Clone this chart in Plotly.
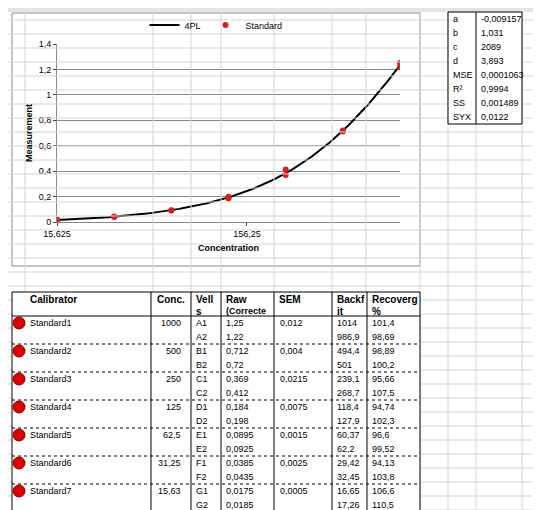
import numpy as np
import plotly.graph_objects as go

W, H = 541, 510
calibrators = ["Standard1","Standard2","Standard3","Standard4","Standard5","Standard6","Standard7"]
conc = [1000, 500, 250, 125, 62.5, 31.25, 15.63]
conc_lbl = ["1000","500","250","125","62,5","31,25","15,63"]
wells = [["A1","A2"],["B1","B2"],["C1","C2"],["D1","D2"],["E1","E2"],["F1","F2"],["G1","G2"]]
raw = [[1.25,1.22],[0.712,0.72],[0.369,0.412],[0.184,0.198],[0.0895,0.0925],[0.0385,0.0435],[0.0175,0.0185]]
sem = ["0,012","0,004","0,0215","0,0075","0,0015","0,0025","0,0005"]
backfit = [["1014","986,9"],["494,4","501"],["239,1","268,7"],["118,4","127,9"],["60,37","62,2"],["29,42","32,45"],["16,65","17,26"]]
recovery = [["101,4","98,69"],["98,89","100,2"],["95,66","107,5"],["94,74","102,3"],["96,6","99,52"],["94,13","103,8"],["106,6","110,5"]]
param_names = ["a","b","c","d","MSE","R²","SS","SYX"]
param_vals = ["-0,009157","1,031","2089","3,893","0,0001063","0,9994","0,001489","0,0122"]
pa, pb, pc, pd = -0.009157, 1.031, 2089, 3.893

def px(x): return x / W
def py(y): return 1 - y / H

FONT = "Liberation Sans, Arial"
shapes, ann = [], []

def line(x0, y0, x1, y1, color="#000", width=1, dash="solid"):
    shapes.append(dict(type="line", xref="paper", yref="paper", x0=px(x0), y0=py(y0),
                       x1=px(x1), y1=py(y1), line=dict(color=color, width=width, dash=dash)))

def text(x, y, s, size=10, bold=False, anchor="left"):
    ann.append(dict(xref="paper", yref="paper", x=px(x), y=py(y), text=f"<b>{s}</b>" if bold else s,
                    showarrow=False, xanchor=anchor, yanchor="middle",
                    font=dict(family=FONT, size=size, color="#000")))

gcol = "#d4d4d4"
for gx in [17, 145, 183, 213, 266, 324, 358, 412, 440, 468, 514]:
    line(gx, 0, gx, H, gcol)
for gy in range(12, H, 14):
    line(0, gy, W, gy, gcol)
shapes.append(dict(type="rect", xref="paper", yref="paper", x0=0, x1=1, y0=py(4), y1=1,
                   fillcolor="#e4e4e4", line=dict(width=0)))
shapes.append(dict(type="rect", xref="paper", yref="paper", x0=px(4), x1=px(412), y0=py(258), y1=py(5),
                   fillcolor="white", line=dict(color="#8c8c8c", width=1), layer="below"))

shapes.append(dict(type="rect", xref="paper", yref="paper", x0=px(440), x1=px(514), y0=py(116), y1=py(4),
                   fillcolor="white", line=dict(color="#000", width=1)))
line(468, 4, 468, 116)
for i, (n, v) in enumerate(zip(param_names, param_vals)):
    text(443, 11 + i * 14, n, 9)
    text(471, 11 + i * 14, v, 9)

cols = [4, 143, 183, 213, 266, 324, 359, 412]
top, hdr = 284, 308
bottom = hdr + 14 * 14
shapes.append(dict(type="rect", xref="paper", yref="paper", x0=px(cols[0]), x1=px(cols[-1]),
                   y0=py(bottom), y1=py(top), fillcolor="white", line=dict(color="#000", width=1)))
for c in cols[1:-1]:
    line(c, top, c, bottom)
line(cols[0], hdr, cols[-1], hdr)
for k in range(1, 7):
    line(cols[0], hdr + 28 * k, cols[-1], hdr + 28 * k, dash="dot")
text(20, 291, "Calibrator", 10, True)
text(147, 291, "Conc.", 10, True)
text(186, 291, "Vell", 10, True); text(186, 303, "s", 10, True)
text(216, 291, "Raw", 10, True); text(216, 303, "(Correcte", 9, True)
text(269, 291, "SEM", 10, True)
text(327, 291, "Backf", 10, True); text(327, 303, "it", 10, True)
text(362, 291, "Recoverg", 10, True); text(362, 303, "%", 10, True)
for i in range(7):
    y1 = hdr + 28 * i + 7
    y2 = y1 + 14
    shapes.append(dict(type="circle", xref="paper", yref="paper", x0=px(5), x1=px(17), y0=py(y1 + 6), y1=py(y1 - 6),
                       fillcolor="#e00000", line=dict(color="#800000", width=1)))
    text(20, y1, calibrators[i], 9)
    text(175, y1, conc_lbl[i], 9, anchor="right")
    text(270, y1, sem[i], 9)
    for j, yy in enumerate([y1, y2]):
        text(186, yy, wells[i][j], 9)
        text(216, yy, f"{raw[i][j]:g}".replace(".", ","), 9)
        text(327, yy, backfit[i][j], 9)
        text(362, yy, recovery[i][j], 9)

xs = np.logspace(np.log10(15.625), np.log10(1000), 200)
ys = pd + (pa - pd) / (1 + (xs / pc) ** pb)
ptx = [c for c in conc for _ in range(2)]
pty = [v for r in raw for v in r]

fig = go.Figure()
fig.add_trace(go.Scatter(x=xs, y=ys, mode="lines", name="4PL", line=dict(color="black", width=2)))
fig.add_trace(go.Scatter(x=ptx, y=pty, mode="markers", name="Standard",
                         marker=dict(color="#d62020", size=6)))
fig.update_layout(
    width=W, height=H, margin=dict(l=0, r=0, t=0, b=0, autoexpand=False), paper_bgcolor="#ffffff",
    plot_bgcolor="white", shapes=shapes, annotations=ann, font=dict(family=FONT, size=9, color="#000"),
    showlegend=True,
    legend=dict(orientation="h", x=px(208), y=py(17), xanchor="center", yanchor="middle",
                bgcolor="rgba(0,0,0,0)", font=dict(size=9)),
    xaxis=dict(type="log", domain=[px(49), px(392)], range=[np.log10(15.625), np.log10(1000)],
               tickvals=[15.625, 156.25], ticktext=["15,625", "156,25"], showgrid=False, automargin=False,
               showline=True, linecolor="#888", ticks="outside", ticklen=3,
               title=dict(text="<b>Concentration</b>", font=dict(size=9), standoff=6)),
    yaxis=dict(domain=[py(214), py(36)], range=[0, 1.4], automargin=False,
               showgrid=True, gridcolor="#888", showline=True, linecolor="#888",
               ticks="outside", ticklen=3, zeroline=False,
               tickvals=[0, 0.2, 0.4, 0.6, 0.8, 1, 1.2, 1.4],
               ticktext=["0", "0,2", "0,4", "0,6", "0,8", "1", "1,2", "1,4"],
               title=dict(text="<b>Measurement</b>", font=dict(size=9), standoff=4)),
)
fig.write_html("out.html")
